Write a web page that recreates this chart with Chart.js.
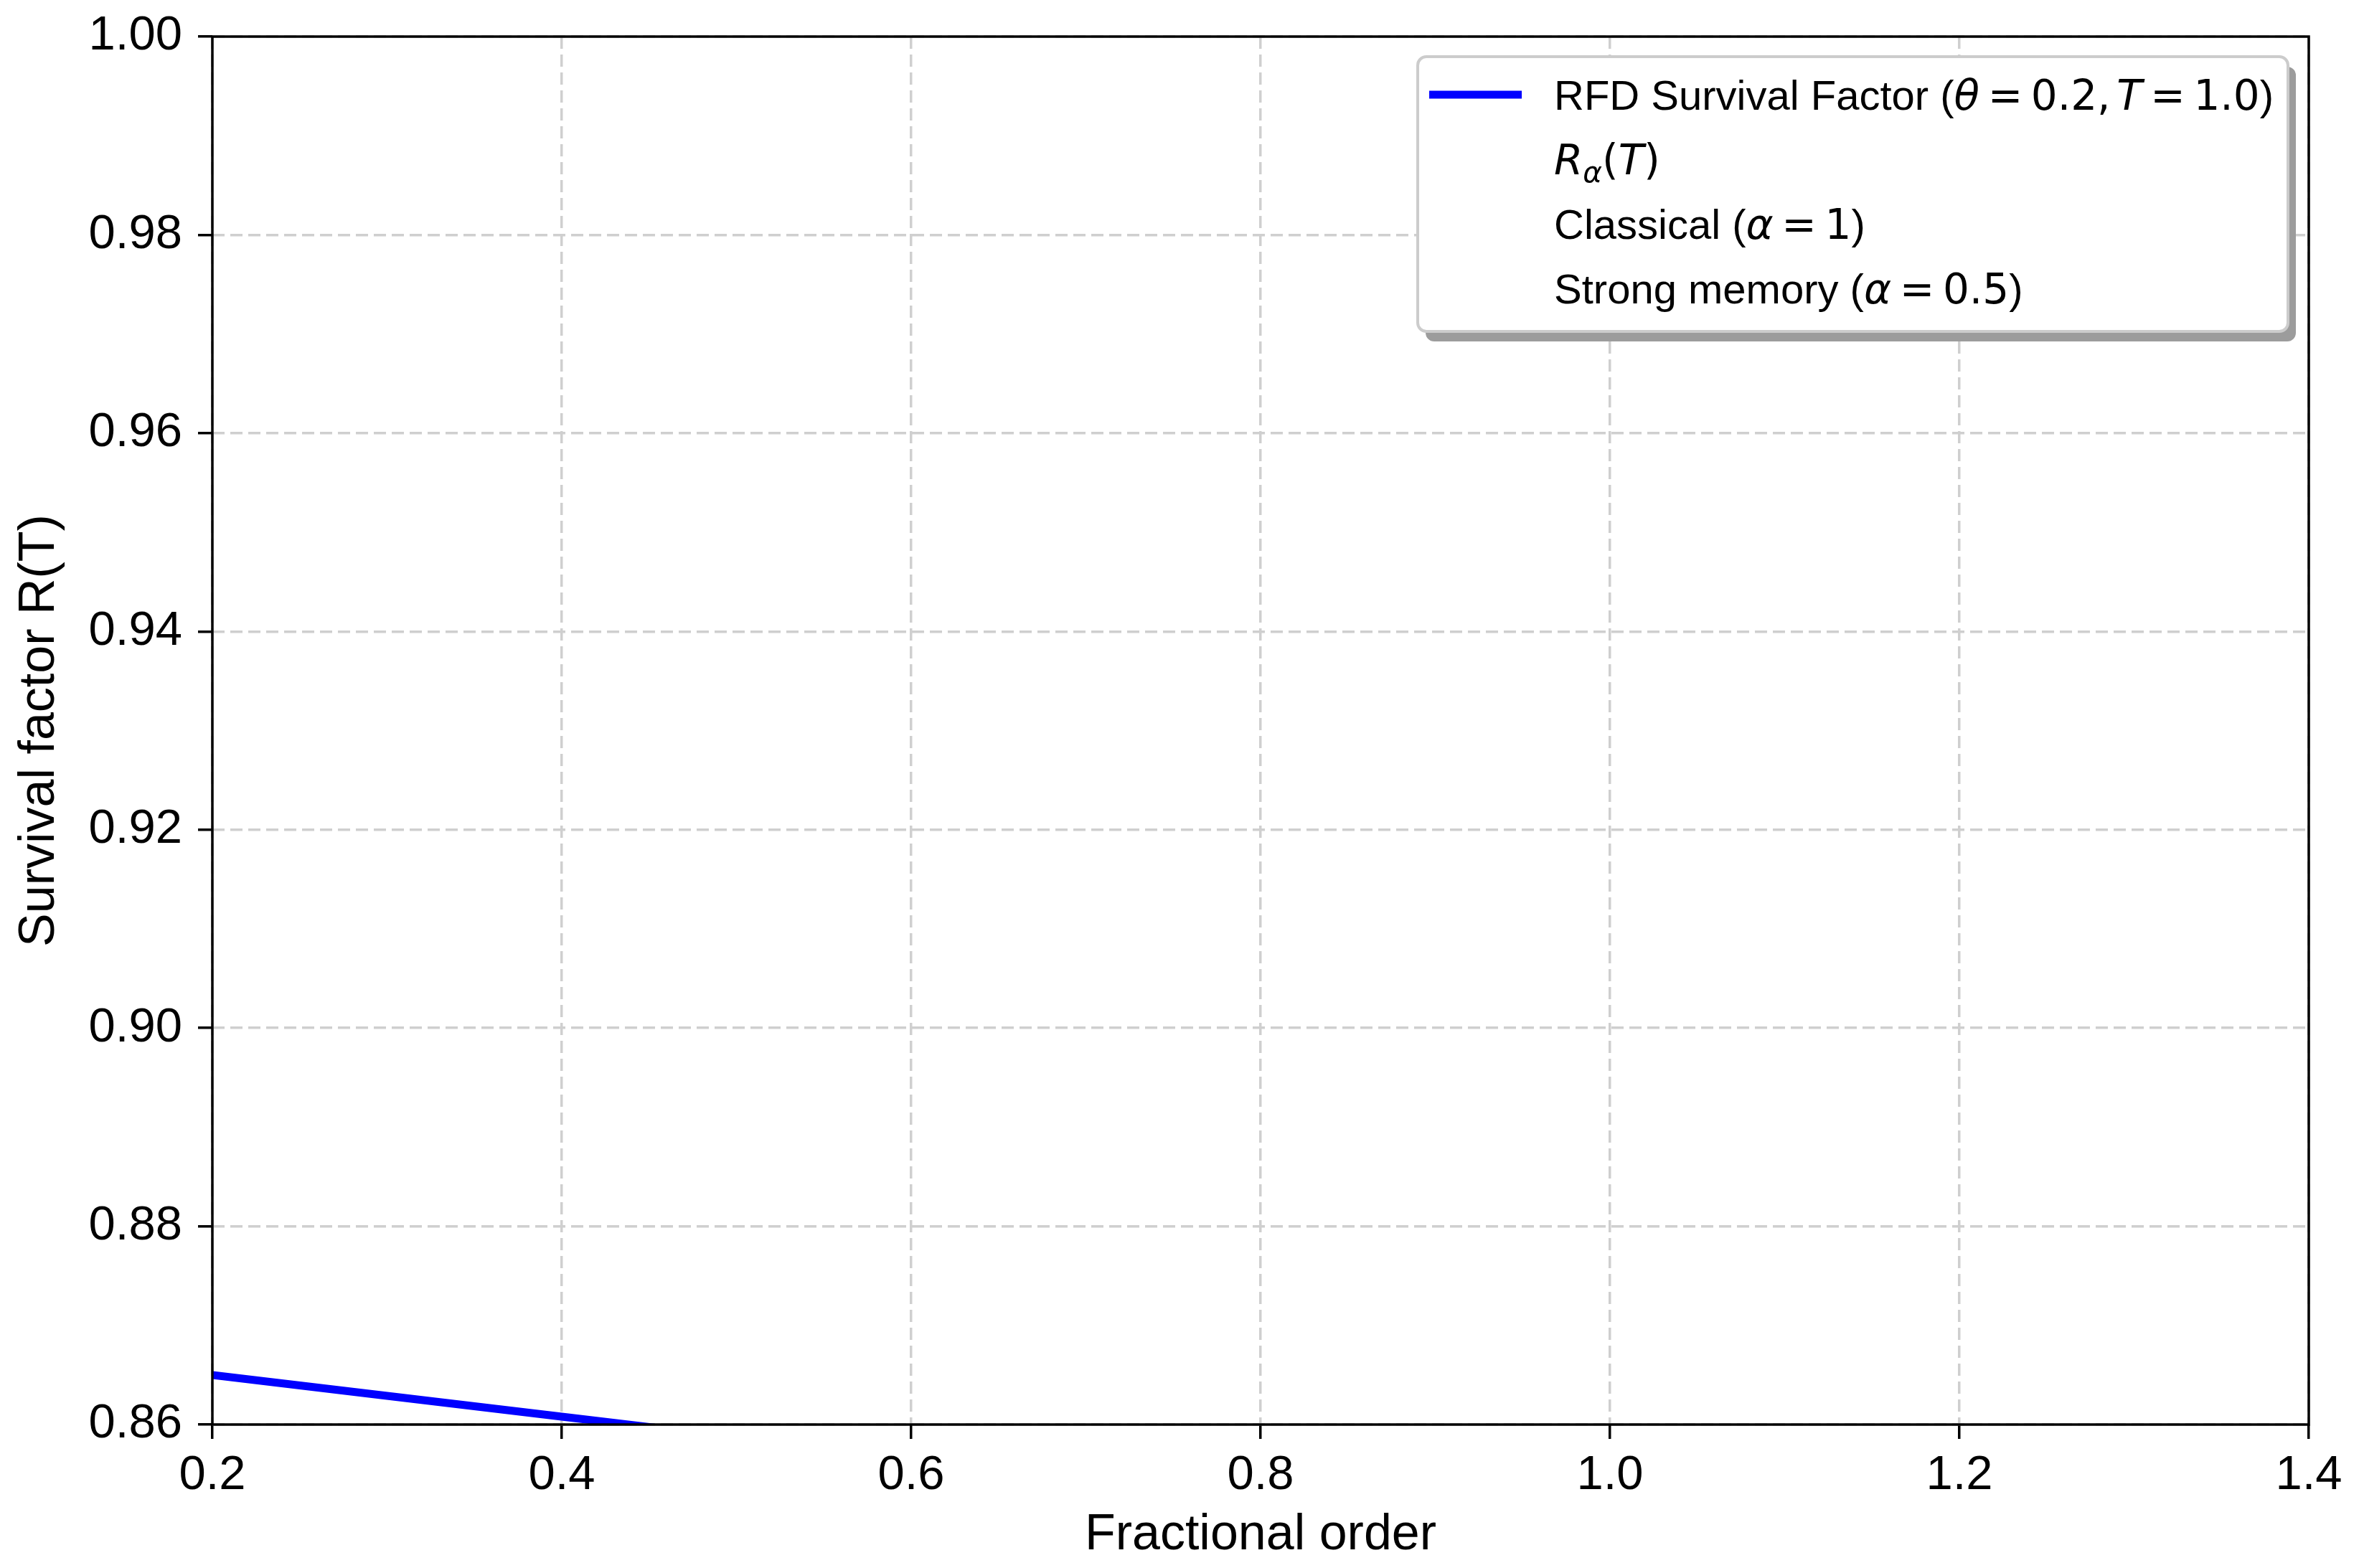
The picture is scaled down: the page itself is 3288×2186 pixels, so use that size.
<!DOCTYPE html>
<html>
<head>
<meta charset="utf-8">
<script src="https://cdn.jsdelivr.net/npm/chart.js@4.4.1/dist/chart.umd.min.js"></script>
<style>
html, body { margin: 0; padding: 0; background: #fff; }
</style>
</head>
<body>
<canvas id="myChart" width="3288" height="2186" style="width:3288px;height:2186px;display:block"></canvas>
<script>
const ctx = document.getElementById('myChart').getContext('2d');

// values
const alphas = [0.2, 0.3, 0.4, 0.5];
const survival = [0.865, 0.8629, 0.8608, 0.8587];
const xTicks = [0.2, 0.4, 0.6, 0.8, 1.0, 1.2, 1.4];
const yTicks = [0.86, 0.88, 0.90, 0.92, 0.94, 0.96, 0.98, 1.00];
const seriesLabels = [
	'RFD Survival Factor ($θ=0.2, T=1.0$)',
	'$R_α(T)$',
	'Classical ($α=1$)',
	'Strong memory ($α=0.5$)'
];

const TEXT_FONT = '"Liberation Sans", Arial, sans-serif';
const MATH_FONT = '"DejaVu Sans", sans-serif';
const TICK_SIZE = 67;
const TITLE_SIZE = 70;
const LEGEND_SIZE = 58;

Chart.defaults.font.family = TEXT_FONT;
Chart.defaults.color = '#000';

// tiny mathtext-ish parser: $...$ parts get DejaVu, letters italic
function parseLabel(label) {
	const runs = [];
	label.split('$').forEach((part, i) => {
		if (i % 2 === 0) {
			if (part) runs.push({text: part, math: false});
			return;
		}
		for (let k = 0; k < part.length; k++) {
			const ch = part[k];
			if (ch === '_') {
				k++;
				runs.push({text: part[k], math: true, italic: true, sub: true});
			} else if (ch === ' ') {
				runs.push({space: 0.15});
			} else if (ch === '=') {
				runs.push({space: 0.2});
				runs.push({text: '=', math: true});
				runs.push({space: 0.2});
			} else {
				runs.push({text: ch, math: true, italic: /[A-Za-zα-ω]/.test(ch)});
			}
		}
	});
	return runs;
}

function runFont(run, size) {
	const s = run.sub ? size * 0.7 : size;
	return (run.italic ? 'italic ' : '') + s + 'px ' + (run.math ? MATH_FONT : TEXT_FONT);
}

function measureRuns(c, runs, size) {
	return runs.reduce((w, run) => {
		if (run.space) return w + run.space * size;
		c.font = runFont(run, size);
		return w + c.measureText(run.text).width;
	}, 0);
}

function drawRuns(c, runs, x, y, size) {
	c.fillStyle = '#000';
	c.textAlign = 'left';
	c.textBaseline = 'alphabetic';
	runs.forEach(run => {
		if (run.space) { x += run.space * size; return; }
		c.font = runFont(run, size);
		c.fillText(run.text, x, y + (run.sub ? 0.2 * size : 0));
		x += c.measureText(run.text).width;
	});
}

function roundRectPath(c, x, y, w, h, r) {
	c.beginPath();
	c.moveTo(x + r, y);
	c.lineTo(x + w - r, y);
	c.arcTo(x + w, y, x + w, y + r, r);
	c.lineTo(x + w, y + h - r);
	c.arcTo(x + w, y + h, x + w - r, y + h, r);
	c.lineTo(x + r, y + h);
	c.arcTo(x, y + h, x, y + h - r, r);
	c.lineTo(x, y + r);
	c.arcTo(x, y, x + r, y, r);
	c.closePath();
}

const framePlugin = {
	id: 'frame',
	afterDatasetsDraw(chart) {
		const {ctx: c, chartArea: a} = chart;
		c.save();
		c.strokeStyle = '#000';
		c.lineWidth = 3.5;
		c.strokeRect(a.left, a.top, a.right - a.left, a.bottom - a.top);
		c.restore();
	}
};

const legendPlugin = {
	id: 'legendBox',
	afterDraw(chart) {
		const {ctx: c, chartArea: a} = chart;
		const size = LEGEND_SIZE;
		const rows = chart.data.datasets.map(ds => {
			const runs = parseLabel(ds.label);
			return {ds, runs, width: measureRuns(c, runs, size)};
		});
		const maxW = Math.max(...rows.map(r => r.width));
		const right = a.right - 29;
		const left = right - (190 + maxW + 20);
		const top = a.top + 28;
		const w = right - left;
		const h = 383;

		c.save();
		roundRectPath(c, left + 11, top + 14, w, h, 12);
		c.fillStyle = '#9c9c9c';
		c.fill();
		roundRectPath(c, left, top, w, h, 12);
		c.fillStyle = '#fff';
		c.fill();
		c.lineWidth = 4;
		c.strokeStyle = '#cccccc';
		c.stroke();

		rows.forEach((r, i) => {
			const cy = top + 53 + i * 90;
			c.beginPath();
			c.moveTo(left + 16, cy);
			c.lineTo(left + 145, cy);
			c.strokeStyle = r.ds.borderColor;
			c.lineWidth = r.ds.borderWidth;
			c.stroke();
			drawRuns(c, r.runs, left + 190, cy + 0.358 * size, size);
		});
		c.restore();
	}
};

const datasets = [
	{
		label: seriesLabels[0],
		data: alphas.map((a, i) => ({x: a, y: survival[i]})),
		borderColor: '#0000ff',
		borderWidth: 11,
		pointRadius: 0,
		tension: 0,
		clip: 0
	}
].concat(seriesLabels.slice(1).map(label => ({
	label: label,
	data: [],
	borderColor: 'rgba(0,0,0,0)',
	borderWidth: 0,
	pointRadius: 0
})));

new Chart(ctx, {
	type: 'line',
	data: {datasets},
	options: {
		responsive: false,
		animation: false,
		devicePixelRatio: 1,
		layout: {padding: {top: 51, right: 70, left: 0, bottom: 0}},
		plugins: {
			legend: {display: false},
			tooltip: {enabled: false}
		},
		scales: {
			x: {
				type: 'linear',
				min: 0.2,
				max: 1.4,
				afterFit: (scale) => { scale.height = 200; },
				afterBuildTicks: (scale) => { scale.ticks = xTicks.map(v => ({value: v})); },
				ticks: {
					callback: (value) => value.toFixed(1),
					font: {size: TICK_SIZE},
					color: '#000',
					padding: 11,
					maxRotation: 0,
					autoSkip: false
				},
				grid: {color: '#cfcfcf', lineWidth: 3.5, tickColor: '#000', tickLength: 20, tickWidth: 3.5},
				border: {display: false, dash: [17, 8]},
				title: {
					display: true,
					text: 'Fractional order',
					color: '#000',
					font: {size: TITLE_SIZE, lineHeight: 1},
					padding: {top: 0, bottom: 10}
				}
			},
			y: {
				type: 'linear',
				min: 0.86,
				max: 1.0,
				afterFit: (scale) => {
					scale.width = 296;
					scale.paddingTop = 0;
					scale.paddingBottom = 0;
				},
				afterBuildTicks: (scale) => { scale.ticks = yTicks.map(v => ({value: v})); },
				ticks: {
					callback: (value) => value.toFixed(2),
					font: {size: TICK_SIZE},
					color: '#000',
					padding: 22,
					autoSkip: false
				},
				grid: {color: '#cfcfcf', lineWidth: 3.5, tickColor: '#000', tickLength: 20, tickWidth: 3.5},
				border: {display: false, dash: [17, 8]},
				title: {
					display: true,
					text: 'Survival factor R(T)',
					color: '#000',
					font: {size: TITLE_SIZE, lineHeight: 1},
					padding: {top: 21, bottom: 0}
				}
			}
		}
	},
	plugins: [framePlugin, legendPlugin]
});
</script>
</body>
</html>
